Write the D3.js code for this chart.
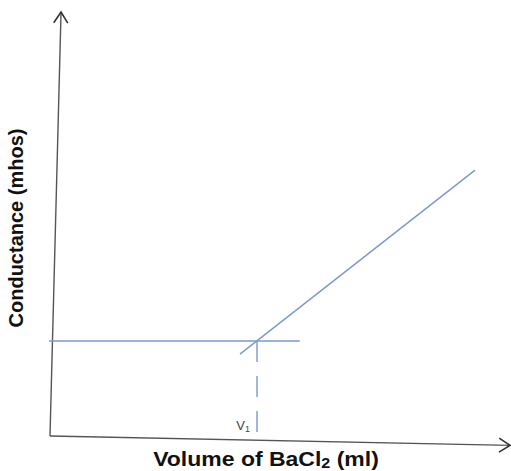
<!DOCTYPE html>
<html>
<head>
<meta charset="utf-8">
<script src="https://cdn.jsdelivr.net/npm/d3@7"></script>
<style>
  body { margin: 0; background: #fff; }
  svg { display: block; }
</style>
</head>
<body>
<svg id="canvas" width="511" height="471"></svg>
<script>
// sketch values, in chart units (x: volume, y: conductance)
const yAxisLine = [[0, 0], [0.24, 10]];
const xAxisLine = [[0, 0], [10, -0.22]];
const flatLine = [[-0.02, 2.24], [5.43, 2.24]];
const risingLine = [[4.13, 1.93], [9.24, 6.27]];
const v1 = 4.5;
const v1Label = "V";
const v1Sub = "1";
const xTitle = ["Volume of BaCl", "2", " (ml)"];
const yTitle = "Conductance (mhos)";

const svg = d3.select("#canvas");
const x = d3.scaleLinear().domain([0, 10]).range([50, 510]);
const y = d3.scaleLinear().domain([0, 10]).range([436, 12]);
const line = d3.line().x(d => x(d[0])).y(d => y(d[1]));

const axisColor = "#555";
const blue = "#7a98d0";
const font = "Liberation Sans, Arial, sans-serif";

function arrowHead(pts) {
  const [a, b] = pts.map(p => [x(p[0]), y(p[1])]);
  const ang = Math.atan2(b[1] - a[1], b[0] - a[0]);
  const len = 13, spread = Math.PI / 5.5;
  const p1 = [b[0] - len * Math.cos(ang - spread), b[1] - len * Math.sin(ang - spread)];
  const p2 = [b[0] - len * Math.cos(ang + spread), b[1] - len * Math.sin(ang + spread)];
  return `M${p1[0]},${p1[1]}L${b[0]},${b[1]}L${p2[0]},${p2[1]}`;
}

// axes
[yAxisLine, xAxisLine].forEach(pts => {
  svg.append("path")
    .attr("d", line(pts))
    .attr("fill", "none")
    .attr("stroke", axisColor)
    .attr("stroke-width", 1.4);
  svg.append("path")
    .attr("d", arrowHead(pts))
    .attr("fill", "none")
    .attr("stroke", "#333")
    .attr("stroke-width", 1.6);
});

// conductance lines
svg.selectAll("path.data")
  .data([flatLine, risingLine])
  .enter()
  .append("path")
  .attr("class", "data")
  .attr("d", line)
  .attr("fill", "none")
  .attr("stroke", blue)
  .attr("stroke-width", 1.4);

// dashed drop line to x axis at V1
const baseAtV1 = xAxisLine[0][1] + (xAxisLine[1][1] - xAxisLine[0][1]) * v1 / xAxisLine[1][0];
svg.append("line")
  .attr("x1", x(v1))
  .attr("y1", y(flatLine[0][1]))
  .attr("x2", x(v1))
  .attr("y2", y(baseAtV1))
  .attr("stroke", blue)
  .attr("stroke-width", 1.4)
  .attr("stroke-dasharray", "21 14");

// V1 label
const vt = svg.append("text")
  .attr("x", x(v1) - 7)
  .attr("y", y(0.15))
  .attr("text-anchor", "end")
  .attr("font-family", font)
  .attr("font-size", 13)
  .attr("fill", "#444");
vt.append("tspan").text(v1Label);
vt.append("tspan").attr("font-size", 9).attr("dy", 2).text(v1Sub);

// x title (source image is a little stretched sideways)
const xt = svg.append("text")
  .attr("transform", "translate(266,466) scale(1.15,1)")
  .attr("text-anchor", "middle")
  .attr("font-family", font)
  .attr("font-weight", "bold")
  .attr("font-size", 20)
  .attr("fill", "#111");
xt.append("tspan").text(xTitle[0]);
xt.append("tspan").attr("font-size", 14).attr("dy", 2).text(xTitle[1]);
xt.append("tspan").attr("dy", -2).text(xTitle[2]);

// y title
svg.append("text")
  .attr("transform", "translate(23,228) rotate(-90)")
  .attr("text-anchor", "middle")
  .attr("font-family", font)
  .attr("font-weight", "bold")
  .attr("font-size", 20)
  .attr("fill", "#111")
  .text(yTitle);
</script>
</body>
</html>
